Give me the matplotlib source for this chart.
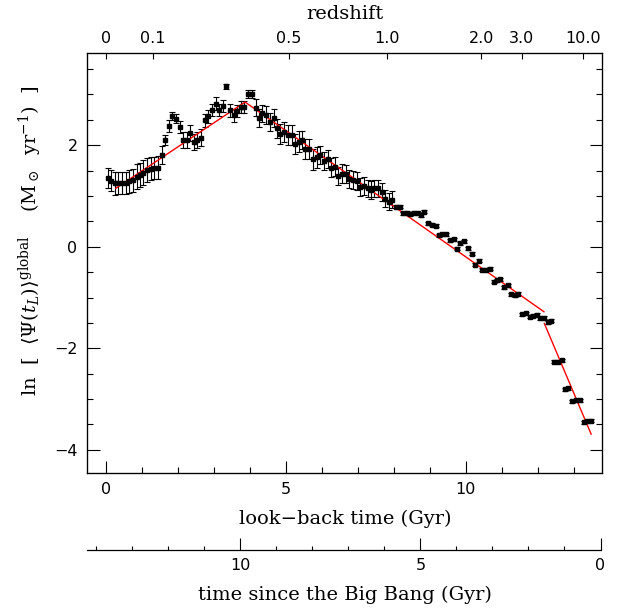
import numpy as np
import matplotlib
matplotlib.use("Agg")
from matplotlib import pyplot as plt
from matplotlib.ticker import MultipleLocator, NullLocator

# look-back time (Gyr) of each point
lookback = [0.06, 0.15, 0.25, 0.35, 0.44, 0.56, 0.66, 0.75, 0.86, 0.95,
            1.04, 1.14, 1.25, 1.34, 1.44, 1.56, 1.65, 1.75, 1.85, 1.95,
            2.05, 2.16, 2.25, 2.35, 2.45, 2.54, 2.65, 2.75, 2.85, 2.95,
            3.06, 3.16, 3.25, 3.35, 3.45, 3.56, 3.66, 3.75, 3.85, 3.95,
            4.05, 4.16, 4.26, 4.35, 4.45, 4.55, 4.66, 4.76, 4.85, 4.95,
            5.06, 5.16, 5.26, 5.36, 5.44, 5.54, 5.65, 5.75, 5.86, 5.95,
            6.06, 6.16, 6.26, 6.36, 6.46, 6.56, 6.67, 6.77, 6.87, 6.97,
            7.06, 7.17, 7.27, 7.36, 7.46, 7.56, 7.67, 7.76, 7.86, 7.96,
            8.06, 8.16, 8.26, 8.36, 8.46, 8.56, 8.66, 8.76, 8.85, 8.96,
            9.06, 9.16, 9.26, 9.35, 9.45, 9.56, 9.66, 9.76, 9.85, 9.95,
            10.06, 10.16, 10.26, 10.36, 10.46, 10.56, 10.67, 10.77, 10.86, 10.96,
            11.06, 11.16, 11.26, 11.36, 11.46, 11.56, 11.67, 11.77, 11.87, 11.97,
            12.06, 12.17, 12.27, 12.37, 12.45, 12.56, 12.66, 12.75, 12.85, 12.96,
            13.06, 13.17, 13.27, 13.37, 13.47]

# ln of the global star formation rate
ln_sfr = [1.35, 1.30, 1.25, 1.26, 1.25, 1.26, 1.29, 1.31, 1.38, 1.41,
          1.46, 1.51, 1.54, 1.55, 1.56, 1.81, 2.10, 2.38, 2.57, 2.52,
          2.36, 2.10, 2.10, 2.24, 2.07, 2.10, 2.15, 2.49, 2.57, 2.69,
          2.82, 2.70, 2.77, 3.16, 2.69, 2.59, 2.68, 2.76, 2.76, 3.00,
          3.00, 2.74, 2.53, 2.63, 2.59, 2.46, 2.53, 2.33, 2.22, 2.26,
          2.20, 2.20, 2.03, 2.07, 2.10, 1.92, 1.92, 1.72, 1.76, 1.81,
          1.69, 1.73, 1.56, 1.58, 1.40, 1.44, 1.43, 1.33, 1.31, 1.30,
          1.17, 1.19, 1.15, 1.12, 1.15, 1.15, 1.08, 0.95, 0.89, 0.93,
          0.79, 0.79, 0.66, 0.67, 0.64, 0.67, 0.66, 0.62, 0.69, 0.46,
          0.43, 0.41, 0.23, 0.25, 0.25, 0.13, 0.15, -0.04, 0.07, 0.11,
          -0.03, -0.14, -0.35, -0.28, -0.45, -0.45, -0.43, -0.69, -0.66, -0.64,
          -0.80, -0.76, -0.94, -0.96, -0.93, -1.33, -1.31, -1.38, -1.36, -1.34,
          -1.41, -1.40, -1.49, -1.46, -2.26, -2.26, -2.24, -2.81, -2.79, -3.04,
          -3.02, -3.02, -3.46, -3.44, -3.43]

ln_err = [0.20, 0.21, 0.23, 0.22, 0.22, 0.22, 0.23, 0.23, 0.24, 0.24,
          0.24, 0.23, 0.22, 0.22, 0.22, 0.18, 0.10, 0.12, 0.08, 0.09,
          0.12, 0.16, 0.16, 0.16, 0.16, 0.16, 0.16, 0.13, 0.13, 0.12,
          0.12, 0.12, 0.12, 0.05, 0.13, 0.13, 0.12, 0.12, 0.12, 0.08,
          0.08, 0.16, 0.18, 0.17, 0.18, 0.18, 0.18, 0.19, 0.20, 0.20,
          0.20, 0.20, 0.20, 0.20, 0.18, 0.20, 0.20, 0.20, 0.20, 0.18,
          0.18, 0.18, 0.18, 0.18, 0.18, 0.18, 0.18, 0.18, 0.18, 0.18,
          0.18, 0.18, 0.17, 0.17, 0.17, 0.17, 0.17, 0.17, 0.17, 0.16,
          0.03, 0.03, 0.03, 0.03, 0.03, 0.03, 0.03, 0.03, 0.03, 0.03,
          0.03, 0.03, 0.03, 0.03, 0.03, 0.03, 0.03, 0.03, 0.03, 0.03,
          0.03, 0.03, 0.03, 0.03, 0.03, 0.03, 0.03, 0.03, 0.03, 0.03,
          0.03, 0.03, 0.03, 0.03, 0.03, 0.03, 0.03, 0.03, 0.03, 0.03,
          0.03, 0.03, 0.03, 0.03, 0.03, 0.03, 0.03, 0.03, 0.03, 0.03,
          0.03, 0.03, 0.03, 0.03, 0.03]

# red broken-line fit
fit1_t = [0.28, 3.87, 12.17]
fit1_v = [1.15, 2.85, -1.28]
fit2_t = [12.18, 13.48]
fit2_v = [-1.51, -3.69]

# redshift labels on top and where they fall in look-back time
z_labels = ["0", "0.1", "0.5", "1.0", "2.0", "3.0", "10.0"]
z_lookback = [0.0, 1.30, 5.09, 7.81, 10.43, 11.55, 13.25]
age_now = 13.74

plt.rcParams["mathtext.fontset"] = "dejavuserif"
serif = "DejaVu Serif"
xlim = (-0.51, 13.79)

fig = plt.figure(figsize=(6.18, 6.09), dpi=100)
ax = fig.add_axes([0.1413, 0.2238, 0.8333, 0.6887])

ax.errorbar(lookback, ln_sfr, yerr=ln_err, fmt="s", ms=2.2, color="black",
            ecolor="black", elinewidth=0.8, capsize=2.2, capthick=0.8)
ax.plot(fit1_t, fit1_v, color="red", lw=1)
ax.plot(fit2_t, fit2_v, color="red", lw=1)

ax.set_xlim(xlim)
ax.set_ylim(-4.45, 3.81)
ax.xaxis.set_major_locator(MultipleLocator(5))
ax.xaxis.set_minor_locator(MultipleLocator(1))
ax.yaxis.set_major_locator(MultipleLocator(2))
ax.yaxis.set_minor_locator(MultipleLocator(0.5))
ax.tick_params(which="both", direction="in", bottom=True, top=False,
               left=True, right=True, labelsize=11.5, width=0.8)
ax.tick_params(which="major", length=9, pad=7)
ax.tick_params(which="minor", length=4.3)
for s in ax.spines.values():
    s.set_linewidth(0.9)

ax.set_xlabel("look\u2212back time (Gyr)", family=serif, fontsize=14, labelpad=9)
ax.set_ylabel(r"ln  [  $\langle\Psi(t_L)\rangle^{\rm global}$    (M$_\odot$  yr$^{-1}$)  ]",
              family=serif, fontsize=14)
ax.yaxis.set_label_coords(-0.085, 0.552)

# redshift axis on top
top = ax.twiny()
top.set_xlim(xlim)
top.set_xticks(z_lookback)
top.set_xticklabels(z_labels)
top.xaxis.set_minor_locator(NullLocator())
top.tick_params(direction="in", length=4.3, width=0.8, labelsize=11.5, pad=5)
top.set_xlabel("redshift", family=serif, fontsize=14, labelpad=9)

# time since the Big Bang axis below
bb = fig.add_axes([0.1413, 1 - 550 / 609, 0.8333, 0.0001])
bb.set_xlim(age_now - xlim[0], age_now - xlim[1])
bb.set_yticks([])
for side in ["top", "left", "right"]:
    bb.spines[side].set_visible(False)
bb.spines["bottom"].set_bounds(age_now - xlim[0], 0)
bb.spines["bottom"].set_linewidth(0.9)
bb.xaxis.set_major_locator(MultipleLocator(5))
bb.xaxis.set_minor_locator(MultipleLocator(1))
bb.tick_params(which="both", direction="in", width=0.8, labelsize=11.5)
bb.tick_params(which="major", length=8.5, pad=6)
bb.tick_params(which="minor", length=3)
bb.set_xlabel("time since the Big Bang (Gyr)", family=serif, fontsize=14, labelpad=9)

fig.savefig("out.png", dpi=100)
